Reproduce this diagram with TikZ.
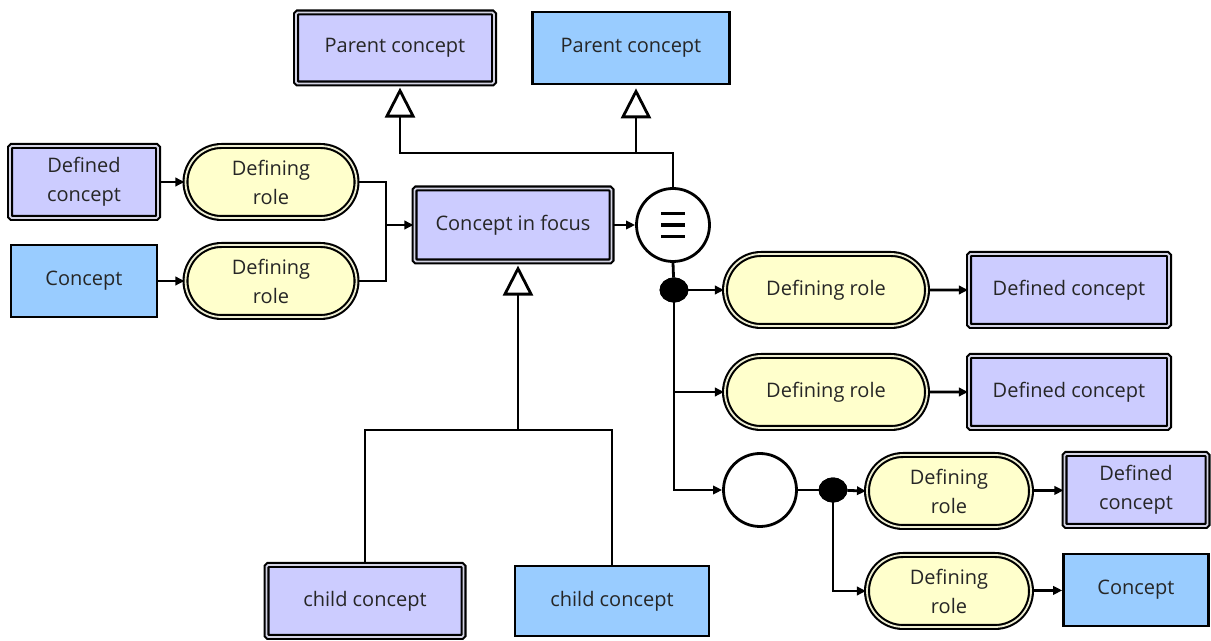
\documentclass[tikz,border=0pt]{standalone}
\usepackage{fontspec}
\setmainfont{Open Sans}
\usetikzlibrary{arrows.meta,shapes.misc,shapes.geometric}
\definecolor{lav}{HTML}{CCCCFF}
\definecolor{sky}{HTML}{99CCFF}
\definecolor{cream}{HTML}{FFFFCC}
\definecolor{lavband}{HTML}{D4D4E4}
\definecolor{creamband}{HTML}{EDEDD2}
\tikzset{
  base/.style={inner sep=0pt, align=center, font=\fontsize{10}{14.5}\selectfont, text=black!85},
  defbox/.style={base, rectangle, draw=black, fill=lav, line width=1.05pt, double=lavband, double distance=0.9pt, rounded corners=0.8pt},
  plainbox/.style={base, rectangle, draw=black, fill=sky, line width=1.3pt},
  rolebox/.style={base, rounded rectangle, draw=black, fill=cream, line width=1.05pt, double=creamband, double distance=0.9pt},
  ring/.style={circle, draw=black, fill=white, line width=1.4pt, minimum size=36.5pt, inner sep=0pt},
  blob/.style={ellipse, fill=black, draw=black, minimum width=14pt, minimum height=12pt, inner sep=0pt},
  conn/.style={line width=1.4pt},
  arr/.style={conn, -{Triangle[length=4.5pt,width=4.2pt]}},
  gen/.style={conn, -{Triangle[open,length=15pt,width=15pt,fill=white]}, shorten >=1.5pt},
  equiv/.style={path picture={
    \foreach \dy in {-5.75pt,0pt,5.75pt}
      \draw[line width=1.7pt] ([xshift=-6pt,yshift=\dy]path picture bounding box.center) -- ++(12pt,0);
  }}
}
\begin{document}
\begin{tikzpicture}[x=0.5pt,y=-0.5pt]
\useasboundingbox (0,0) rectangle (1211,641);
% top parents
\node[defbox, minimum width=99pt, minimum height=35.5pt] (P1) at (395,48) {Parent concept};
\node[plainbox, minimum width=98.5pt, minimum height=36pt] (P2) at (631,48) {Parent concept};
% focus
\node[defbox, minimum width=98.5pt, minimum height=36.5pt] (F) at (513,225) {Concept in focus};
\node[ring, equiv] (EQ) at (673,225) {};
\node[blob] (D1) at (674,290) {};
% left
\node[defbox, minimum width=74pt, minimum height=36pt] (DL1) at (84,182) {Defined\\concept};
\node[rolebox, minimum width=85.5pt, minimum height=36pt] (RL1) at (271,182) {Defining\\role};
\node[plainbox, minimum width=73pt, minimum height=36pt] (CL2) at (84,281) {Concept};
\node[rolebox, minimum width=85.5pt, minimum height=36pt] (RL2) at (271,281) {Defining\\role};
\coordinate (J1) at (386,225);
% right
\node[rolebox, minimum width=101pt, minimum height=36pt] (R1) at (826,290) {Defining role};
\node[defbox, minimum width=100pt, minimum height=36pt] (DC1) at (1069,290) {Defined concept};
\node[rolebox, minimum width=101pt, minimum height=36pt] (R2) at (826,392) {Defining role};
\node[defbox, minimum width=100pt, minimum height=36pt] (DC2) at (1069,392) {Defined concept};
\node[ring] (EC) at (760,490) {};
\node[blob] (D2) at (833,490) {};
\node[rolebox, minimum width=82pt, minimum height=36pt] (R3) at (949,491) {Defining\\role};
\node[defbox, minimum width=71.5pt, minimum height=36pt] (DC3) at (1136,490) {Defined\\concept};
\node[rolebox, minimum width=82pt, minimum height=36pt] (R4) at (949,591) {Defining\\role};
\node[plainbox, minimum width=72.5pt, minimum height=36pt] (C4) at (1136,590) {Concept};
% children
\node[defbox, minimum width=98.5pt, minimum height=36pt] (CH1) at (365,601) {child concept};
\node[plainbox, minimum width=97pt, minimum height=35pt] (CH2) at (612,601) {child concept};
\coordinate (H1) at (673,153);
\coordinate (H2) at (518,430);
\coordinate (P1s) at ([xshift=2.5pt]P1.south);
\coordinate (P2s) at ([xshift=2.5pt]P2.south);
\coordinate (Fs) at ([xshift=2.5pt]F.south);
% connectors left
\draw[arr] (DL1) -- (RL1);
\draw[arr] (CL2) -- (RL2);
\draw[conn] (RL1.east) -| (J1) |- (RL2.east);
\draw[arr] (J1) -- (F.west);
\draw[arr] (F.east) -- (EQ.west);
% generalisation to parents
\draw[gen] (EQ.north) -- (H1) -| (P1s);
\draw[gen] (H1 -| P2s) -- (P2s);
% children
\draw[conn] (CH1.north) |- (H2);
\draw[conn] (CH2.north) |- (H2);
\draw[gen] (H2) -- (Fs);
% right side
\draw[conn] (EQ.south) -- (D1);
\draw[arr] (D1) -- (R1.west);
\draw[arr] (D1.center |- R2.west) -- (R2.west);
\draw[arr] (D1.center) |- (EC.west);
\draw[arr] (R1) -- (DC1);
\draw[arr] (R2) -- (DC2);
\draw[conn] (EC.east) -- (D2);
\draw[arr] (D2) -- (R3.west);
\draw[arr] (D2.center) |- (R4.west);
\draw[arr] (R3) -- (DC3);
\draw[arr] (R4) -- (C4);
\node[blob] at (D1) {};
\node[blob] at (D2) {};
\end{tikzpicture}
\end{document}
